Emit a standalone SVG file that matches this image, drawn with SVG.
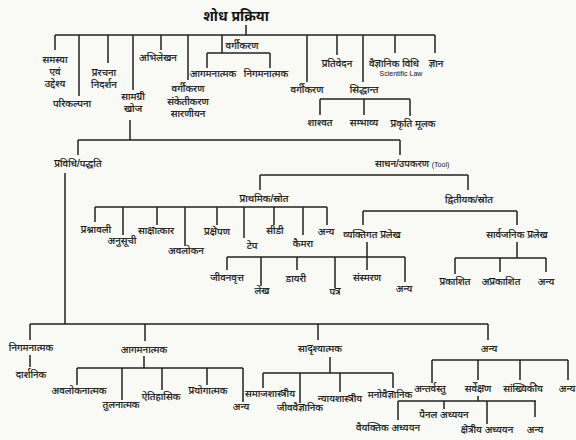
<svg xmlns="http://www.w3.org/2000/svg" width="576" height="440" viewBox="0 0 576 440">
<style>
text{font-family:"Liberation Sans","Noto Sans",sans-serif;font-size:10px;fill:#141414;stroke:#141414;stroke-width:0.2;text-anchor:middle;}
.t{font-size:14px;font-weight:bold;stroke-width:0;}
.lat{font-family:"Liberation Sans",Arial,sans-serif;font-size:7px;stroke-width:0;}
#connectors path{fill:none;stroke:#222;stroke-width:1.5;}
</style>
<rect width="576" height="440" fill="#f9f9f6"/>
<g id="connectors">
<path d="M246 25V35M55 35H435M55 35V50M79 35V96M108 35V63M133 35V90M161 35V50M188 35V80M222 35V53M207 53H270M207 53V68M270 53V68M307 35V82M337 35V55M363 35V82M395 35V53M435 35V53"/>
<path d="M320 99H410M320 99V115M364 99V115M410 99V116"/>
<path d="M130 120V140M78 140H400M78 140V155M400 140V155"/>
<path d="M260 175H468M260 175V190M468 175V190"/>
<path d="M95 207H327M95 207V222M123 207V235M157 207V225M185 207V246M217 207V225M244 207V238M274 207V225M303 207V235M327 207V225"/>
<path d="M363 211H517M363 211V225M517 211V225"/>
<path d="M367 242V257M227 257H405M227 257V270M261 257V286M297 257V270M335 257V288M367 257V270M405 257V282"/>
<path d="M517 242V258M455 258H546M455 258V274M500 258V272M546 258V272"/>
<path d="M65 173V324M30 324H488M30 324V340M145 324V341M318 324V340M488 324V340"/>
<path d="M30 355V367"/>
<path d="M144 356V368M77 368H243M77 368V385M122 368V400M162 368V390M207 368V385M243 368V402"/>
<path d="M330 357V373M263 373H393M263 373V388M300 373V403M340 373V392M393 373V388"/>
<path d="M432 360H568M432 360V383M478 360V380M520 360V380M568 360V380"/>
<path d="M478 396V401M398 401H536M398 401V420M444 401V409M487 401V424M535 401V417"/>
</g>
<g id="n-root"><text class="t" x="236" y="21">शोध प्रक्रिया</text></g>
<g id="n-samasya"><text x="55" y="63">समस्या<tspan x="55" dy="12">एवं</tspan><tspan x="55" dy="12">उद्देश्य</tspan></text></g>
<g id="n-parikalpana"><text x="72" y="107">परिकल्पना</text></g>
<g id="n-prarachna"><text x="104" y="76">प्ररचना<tspan x="104" dy="12">निदर्शन</tspan></text></g>
<g id="n-samagri"><text x="133" y="100">सामग्री<tspan x="133" dy="12">खोज</tspan></text></g>
<g id="n-abhilekhan"><text x="158" y="61">अभिलेखन</text></g>
<g id="n-vargikaran1"><text x="188" y="92">वर्गीकरण<tspan x="188" dy="12.5">संकेतीकरण</tspan><tspan x="188" dy="12.5">सारणीयन</tspan></text></g>
<g id="n-vargikaran2"><text x="242" y="49">वर्गीकरण</text></g>
<g id="n-agaman1"><text x="213" y="77">आगमनात्मक</text></g>
<g id="n-nigaman1"><text x="266" y="77">निगमनात्मक</text></g>
<g id="n-vargikaran3"><text x="307" y="93">वर्गीकरण</text></g>
<g id="n-prativedan"><text x="337" y="67">प्रतिवेदन</text></g>
<g id="n-siddhant"><text x="364" y="93">सिद्धान्त</text></g>
<g id="n-shashvat"><text x="320" y="126">शाश्वत</text></g>
<g id="n-sambhavya"><text x="364" y="126">सम्भाव्य</text></g>
<g id="n-prakriti"><text x="413" y="127">प्रकृति मूलक</text></g>
<g id="n-vaigyanik"><text x="394" y="67">वैज्ञानिक विधि<tspan class="lat" x="401" dy="9">Scientific Law</tspan></text></g>
<g id="n-gyan"><text x="436" y="67">ज्ञान</text></g>
<g id="n-pravidhi"><text x="78" y="167">प्रविधि/पद्धति</text></g>
<g id="n-sadhan"><text x="375" y="167" style="text-anchor:start">साधन/उपकरण <tspan class="lat">(Tool)</tspan></text></g>
<g id="n-prathamik"><text x="264" y="202">प्राथमिक/स्रोत</text></g>
<g id="n-dvitiyak"><text x="469" y="203">द्वितीयक/स्रोत</text></g>
<g id="n-prashnavali"><text x="96" y="233">प्रश्नावली</text></g>
<g id="n-anusuchi"><text x="122" y="244">अनुसूची</text></g>
<g id="n-sakshatkar"><text x="156" y="234">साक्षात्कार</text></g>
<g id="n-avalokan"><text x="186" y="254">अवलोकन</text></g>
<g id="n-prakshepan"><text x="217" y="235">प्रक्षेपण</text></g>
<g id="n-tape"><text x="252" y="249">टेप</text></g>
<g id="n-cd"><text x="275" y="234">सीडी</text></g>
<g id="n-camera"><text x="303" y="247">कैमरा</text></g>
<g id="n-anya1"><text x="326" y="235">अन्य</text></g>
<g id="n-vyaktigat"><text x="372" y="238">व्यक्तिगत प्रलेख</text></g>
<g id="n-sarvajanik"><text x="517" y="238">सार्वजनिक प्रलेख</text></g>
<g id="n-jivanvritt"><text x="227" y="281">जीवनवृत्त</text></g>
<g id="n-lekh"><text x="262" y="294">लेख</text></g>
<g id="n-diary"><text x="296" y="282">डायरी</text></g>
<g id="n-patra"><text x="335" y="295">पत्र</text></g>
<g id="n-sansmaran"><text x="367" y="281">संस्मरण</text></g>
<g id="n-anya2"><text x="404" y="292">अन्य</text></g>
<g id="n-prakashit"><text x="455" y="285">प्रकाशित</text></g>
<g id="n-aprakashit"><text x="501" y="285">अप्रकाशित</text></g>
<g id="n-anya3"><text x="546" y="285">अन्य</text></g>
<g id="n-nigaman2"><text x="31" y="351">निगमनात्मक</text></g>
<g id="n-darshanik"><text x="31" y="378">दार्शनिक</text></g>
<g id="n-agaman2"><text x="144" y="353">आगमनात्मक</text></g>
<g id="n-avaloknatmak"><text x="79" y="394">अवलोकनात्मक</text></g>
<g id="n-tulnatmak"><text x="121" y="408">तुलनात्मक</text></g>
<g id="n-aitihasik"><text x="161" y="400">ऐतिहासिक</text></g>
<g id="n-prayogatmak"><text x="208" y="394">प्रयोगात्मक</text></g>
<g id="n-anya4"><text x="241" y="410">अन्य</text></g>
<g id="n-sadrishyatmak"><text x="320" y="352">सादृश्यात्मक</text></g>
<g id="n-samajshastriya"><text x="270" y="397">समाजशास्त्रीय</text></g>
<g id="n-jivvaigyanik"><text x="300" y="411">जीववैज्ञानिक</text></g>
<g id="n-nyayshastriya"><text x="340" y="402">न्यायशास्त्रीय</text></g>
<g id="n-manovaigyanik"><text x="390" y="398">मनोवैज्ञानिक</text></g>
<g id="n-anya5"><text x="489" y="352">अन्य</text></g>
<g id="n-antarvastu"><text x="430" y="392">अन्तर्वस्तु</text></g>
<g id="n-sarvekshan"><text x="478" y="392">सर्वेक्षण</text></g>
<g id="n-sankhyikiya"><text x="523" y="392">सांख्यिकीय</text></g>
<g id="n-anya6"><text x="567" y="392">अन्य</text></g>
<g id="n-vaiyaktik"><text x="388" y="431">वैयक्तिक अध्ययन</text></g>
<g id="n-panel"><text x="444" y="418">पैनल अध्ययन</text></g>
<g id="n-kshetriya"><text x="487" y="433">क्षेत्रीय अध्ययन</text></g>
<g id="n-anya7"><text x="535" y="433">अन्य</text></g>
</svg>
